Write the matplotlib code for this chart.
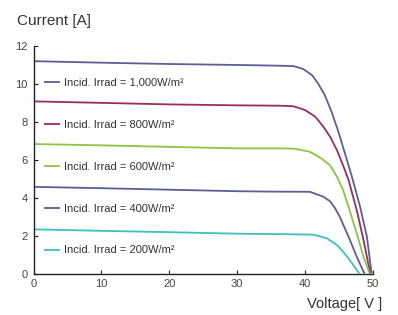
import matplotlib
matplotlib.use("Agg")
import matplotlib.pyplot as plt

plt.rcParams['font.family'] = ['Liberation Sans', 'DejaVu Sans']

# Data
v1000 = [0, 10, 20, 30, 36.3, 38.3, 39.7, 41.0, 41.9, 42.9, 43.9, 44.9, 45.9, 46.9, 48.1, 49.1, 49.8]
i1000 = [11.2, 11.12, 11.05, 11.0, 10.96, 10.94, 10.79, 10.47, 10.03, 9.41, 8.53, 7.48, 6.3, 5.1, 3.52, 1.94, 0.0]

v800 = [0, 10, 20, 30, 36.3, 38.3, 40.0, 41.5, 42.7, 43.7, 44.7, 45.6, 46.4, 47.6, 48.6, 49.6]
i800 = [9.08, 9.0, 8.92, 8.87, 8.85, 8.82, 8.62, 8.27, 7.74, 7.2, 6.5, 5.7, 4.93, 3.35, 1.77, 0.0]

v600 = [0, 10, 20, 30, 36.3, 38.5, 40.7, 42.4, 43.7, 44.7, 45.6, 46.4, 47.6, 48.6, 49.5]
i600 = [6.83, 6.76, 6.68, 6.6, 6.6, 6.58, 6.42, 6.07, 5.7, 5.1, 4.4, 3.52, 2.12, 0.89, 0.0]

v400 = [0, 10, 20, 30, 34.8, 40.7, 42.7, 43.7, 44.4, 45.1, 46.4, 47.6, 48.6, 48.8]
i400 = [4.57, 4.5, 4.42, 4.34, 4.32, 4.31, 4.05, 3.8, 3.45, 3.0, 1.94, 0.89, 0.1, 0.0]

v200 = [0, 10, 20, 30, 37.8, 41.2, 43.2, 44.7, 45.6, 46.4, 47.1, 48.0]
i200 = [2.33, 2.25, 2.18, 2.1, 2.07, 2.05, 1.86, 1.5, 1.15, 0.8, 0.45, 0.0]

labels = ['Incid. Irrad = 1,000W/m²', 'Incid. Irrad = 800W/m²',
          'Incid. Irrad = 600W/m²', 'Incid. Irrad = 400W/m²',
          'Incid. Irrad = 200W/m²']
colors = ['#5c5e96', '#9a2c62', '#8cc63f', '#5c5e96', '#3cc0c0']

xticks = [0, 10, 20, 30, 40, 50]
yticks = [0, 2, 4, 6, 8, 10, 12]

fig = plt.figure(figsize=(3.98, 3.15), dpi=100)
ax = fig.add_axes([33.5/398, 1-273.5/315, (373-33.5)/398, (273.5-46)/315])

series = [(v1000, i1000), (v800, i800), (v600, i600), (v400, i400), (v200, i200)]
for (v, i), lab, c in zip(series, labels, colors):
    ax.plot(v, i, color=c, lw=1.3, label=lab, solid_joinstyle='round',
            solid_capstyle='butt')

ax.set_xlim(0, 50)
ax.set_ylim(0, 12)
ax.set_xticks(xticks)
ax.set_yticks(yticks)
for s in ['top', 'right']:
    ax.spines[s].set_visible(False)
for s in ['left', 'bottom']:
    ax.spines[s].set_linewidth(1.0)
    ax.spines[s].set_color('#222222')
ax.tick_params(direction='in', length=3, width=0.8, colors='#222222',
               labelsize=8, labelcolor='#444444', pad=4)

leg = ax.legend(loc='upper left', bbox_to_anchor=(0.03, 0.86), frameon=False,
                fontsize=8, handlelength=1.5, handletextpad=0.3,
                labelspacing=2.87, borderpad=0, borderaxespad=0)
for t in leg.get_texts():
    t.set_color('#333333')

fig.text(17/398, 1-25/315, 'Current [A]', fontsize=11, color='#333333',
         ha='left', va='baseline')
fig.text(382/398, 1-308/315, 'Voltage[ V ]', fontsize=10.5, color='#333333',
         ha='right', va='baseline')

fig.savefig('out.png', dpi=100)
